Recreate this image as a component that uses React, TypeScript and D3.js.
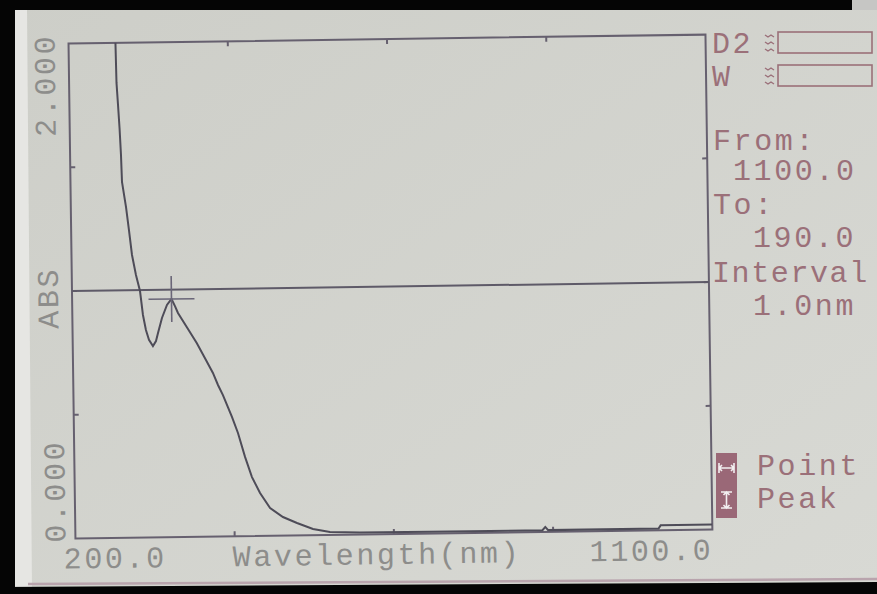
import React from "react";
import * as d3 from "d3";

// Absorbance scan, 1 nm interval (wavelength in nm, absorbance in ABS)
const wavelengths = [
  262, 266.3, 267, 268.7, 270.4, 271.9, 272.8, 278.0, 281.7, 285.5, 290.7, 296.1,
  299.8, 303.7, 307.8, 313.3, 317.7, 320.7, 326.6, 333.9, 340.4, 345.2, 349.3,
  361.4, 375.2, 387.9, 397.5, 404.4, 411.2, 423.5, 431.7, 441.2, 450.6, 461.7,
  475.6, 493.6, 513.3, 535.8, 559.7, 602.1, 700, 860, 864, 868, 1024, 1027, 1100,
];
const absorbance = [
  2.15, 2.0, 1.838, 1.749, 1.656, 1.547, 1.438, 1.336, 1.243, 1.142, 1.061, 0.996,
  0.899, 0.838, 0.798, 0.773, 0.793, 0.825, 0.886, 0.938, 0.962, 0.933, 0.905,
  0.848, 0.783, 0.714, 0.661, 0.612, 0.571, 0.482, 0.417, 0.32, 0.238, 0.173,
  0.112, 0.075, 0.05, 0.025, 0.012, 0.008, 0.007, 0.007, 0.02, 0.007, 0.007, 0.02, 0.02,
];

const xDomain = [200, 1100];
const yDomain = [0, 2];
const xTicks = [425, 650, 875];
const yTicks = [0.5, 1.0, 1.5];
const xLabels = ["200.0", "1100.0"];
const yLabels = ["0.000", "2.000"];
const xTitle = "Wavelength(nm)";
const yTitle = "ABS";
const cursorLevel = 1.0;
const peakWavelength = 340.4;
const peakAbsorbance = 0.962;
const lamps = ["D2", "W"];
const scanFrom = "1100.0";
const scanTo = "190.0";
const scanInterval = "1.0nm";
const modes = ["Point", "Peak"];

const W = 877;
const H = 594;
const L = 72;
const R = 709;
const T = 39;
const B = 534;

const mono = "'Liberation Mono', 'DejaVu Sans Mono', monospace";
const grayText = "#8d8d8b";
const maroon = "#9b7079";
const frameColor = "#66606f";
const traceColor = "#4e4c58";

export default function App() {
  const x = d3.scaleLinear().domain(xDomain).range([L, R]);
  const y = d3.scaleLinear().domain(yDomain).range([B, T]);
  const line = d3
    .line<number>()
    .x((_, i) => x(wavelengths[i]))
    .y((d) => y(d))
    .curve(d3.curveLinear);
  const tracePath = line(absorbance) ?? "";

  const px = x(peakWavelength);
  const py = y(peakAbsorbance);
  const arm = 23;

  const textStyle = {
    fontFamily: mono,
    fontSize: 30,
    letterSpacing: 2.6,
  } as React.CSSProperties;

  return (
    <svg
      width={W}
      height={H}
      viewBox={`0 0 ${W} ${H}`}
      style={{ position: "absolute", left: 0, top: 0, display: "block" }}
    >
      <defs>
        <linearGradient id="screen" x1="0" y1="0" x2="1" y2="1">
          <stop offset="0" stopColor="#cdcec8" />
          <stop offset="1" stopColor="#d8d9d4" />
        </linearGradient>
        <clipPath id="plotClip">
          <rect x={L} y={T} width={R - L} height={B - T} />
        </clipPath>
      </defs>

      {/* LCD screen */}
      <rect x={0} y={0} width={W} height={H} fill="url(#screen)" />
      <polygon points="15,10 27,10 32,590 15,590" fill="#e6e6e3" />

      {/* plot frame, trace and cursor, slightly tilted like the panel */}
      <g transform="rotate(-0.8, 393, 290)">
        <rect x={L} y={T} width={R - L} height={B - T} fill="none" stroke={frameColor} strokeWidth={2} />
        {xTicks.map((t) => (
          <g key={`xt${t}`}>
            <line x1={x(t)} x2={x(t)} y1={B} y2={B - 5} stroke={frameColor} strokeWidth={2} />
            <line x1={x(t)} x2={x(t)} y1={T} y2={T + 5} stroke={frameColor} strokeWidth={2} />
          </g>
        ))}
        {yTicks.map((t) => (
          <g key={`yt${t}`}>
            <line x1={L} x2={L + 5} y1={y(t)} y2={y(t)} stroke={frameColor} strokeWidth={2} />
            <line x1={R} x2={R - 5} y1={y(t)} y2={y(t)} stroke={frameColor} strokeWidth={2} />
          </g>
        ))}

        {/* cursor level */}
        <line x1={L} x2={R} y1={y(cursorLevel)} y2={y(cursorLevel)} stroke="#5e5a68" strokeWidth={2} />

        {/* spectrum */}
        <path d={tracePath} fill="none" stroke={traceColor} strokeWidth={2} clipPath="url(#plotClip)" />

        {/* peak crosshair */}
        <line x1={px - arm} x2={px + arm} y1={py} y2={py} stroke="#6a6678" strokeWidth={1.6} />
        <line x1={px} x2={px} y1={py - arm} y2={py + arm} stroke="#6a6678" strokeWidth={1.6} />

        {/* axis labels */}
        <text x={60} y={564} fill={grayText} style={textStyle}>{xLabels[0]}</text>
        <text x={586} y={564} fill={grayText} style={textStyle}>{xLabels[1]}</text>
        <text x={229} y={564} fill={grayText} style={textStyle}>{xTitle}</text>
        <text transform="translate(62,538) rotate(-90)" fill={grayText} style={textStyle}>{yLabels[0]}</text>
        <text transform="translate(58,132) rotate(-90)" fill={grayText} style={textStyle}>{yLabels[1]}</text>
        <text transform="translate(58,324) rotate(-90)" fill={grayText} style={textStyle}>{yTitle}</text>
      </g>

      {/* lamp status */}
      {lamps.map((lamp, i) => {
        const top = 32 + i * 33;
        return (
          <g key={lamp}>
            <text x={712} y={top + 21} fill={maroon} style={textStyle}>{lamp}</text>
            {[0, 1, 2].map((k) => (
              <path
                key={k}
                d={`M765,${top + 3 + k * 7} l3,2 l3,-2 l3,2`}
                fill="none"
                stroke={maroon}
                strokeWidth={1.4}
              />
            ))}
            <rect x={778} y={top} width={94} height={21} fill="none" stroke={maroon} strokeWidth={1.6} />
          </g>
        );
      })}

      {/* scan range */}
      <text x={713} y={150} fill={maroon} style={textStyle}>From:</text>
      <text x={733} y={180} fill={maroon} style={textStyle}>{scanFrom}</text>
      <text x={713} y={214} fill={maroon} style={textStyle}>To:</text>
      <text x={753} y={247} fill={maroon} style={textStyle}>{scanTo}</text>
      <text x={712} y={282} fill={maroon} style={{ ...textStyle, letterSpacing: 1.6 }}>Interval</text>
      <text x={753} y={315} fill={maroon} style={textStyle}>{scanInterval}</text>

      {/* cursor mode keys */}
      <rect x={716} y={453} width={21} height={65} fill="#9a6877" />
      <g stroke="#f2eef0" strokeWidth={1.6} fill="none">
        <path d="M719,463 v10 M734,463 v10 M719,468 h15 M722,465 l-3,3 l3,3 M731,465 l3,3 l-3,3" />
        <path d="M721,492 h11 M721,508 h11 M726.5,492 v16 M723.5,495 l3,-3 l3,3 M723.5,505 l3,3 l3,-3" />
      </g>
      <text x={757} y={475} fill={maroon} style={textStyle}>{modes[0]}</text>
      <text x={757} y={508} fill={maroon} style={textStyle}>{modes[1]}</text>

      {/* bezel */}
      <line x1={28} y1={584} x2={W} y2={579} stroke="#b9a4ad" strokeWidth={2.5} />
      <polygon points={`0,587 ${W},582 ${W},${H} 0,${H}`} fill="#050505" />
      <rect x={0} y={0} width={852} height={10} fill="#050505" />
      <rect x={852} y={0} width={25} height={10} fill="#c6c6c4" />
      <rect x={0} y={0} width={15} height={H} fill="#050505" />
    </svg>
  );
}
